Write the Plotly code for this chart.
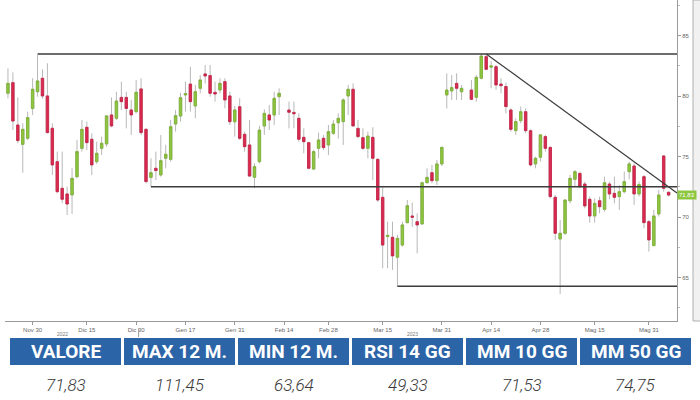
import plotly.graph_objects as go

# ---------------- data ----------------
dates = [
    "2022-11-22", "2022-11-23", "2022-11-25", "2022-11-28", "2022-11-29", "2022-11-30",
    "2022-12-01", "2022-12-02", "2022-12-05", "2022-12-06", "2022-12-07", "2022-12-08", "2022-12-09",
    "2022-12-12", "2022-12-13", "2022-12-14", "2022-12-15", "2022-12-16", "2022-12-19", "2022-12-20",
    "2022-12-21", "2022-12-22", "2022-12-23", "2022-12-27", "2022-12-28", "2022-12-29", "2022-12-30",
    "2023-01-03", "2023-01-04", "2023-01-05", "2023-01-06", "2023-01-09", "2023-01-10", "2023-01-11",
    "2023-01-12", "2023-01-13", "2023-01-17", "2023-01-18", "2023-01-19", "2023-01-20", "2023-01-23",
    "2023-01-24", "2023-01-25", "2023-01-26", "2023-01-27", "2023-01-30", "2023-01-31",
    "2023-02-01", "2023-02-02", "2023-02-03", "2023-02-06", "2023-02-07", "2023-02-08", "2023-02-09",
    "2023-02-10", "2023-02-13", "2023-02-14", "2023-02-15", "2023-02-16", "2023-02-17", "2023-02-21",
    "2023-02-22", "2023-02-23", "2023-02-24", "2023-02-27", "2023-02-28",
    "2023-03-01", "2023-03-02", "2023-03-03", "2023-03-06", "2023-03-07", "2023-03-08", "2023-03-09",
    "2023-03-10", "2023-03-13", "2023-03-14", "2023-03-15", "2023-03-16", "2023-03-17", "2023-03-20",
    "2023-03-21", "2023-03-22", "2023-03-23", "2023-03-24", "2023-03-27", "2023-03-28", "2023-03-29",
    "2023-03-30", "2023-03-31",
    "2023-04-03", "2023-04-04", "2023-04-05", "2023-04-06", "2023-04-07", "2023-04-10", "2023-04-11",
    "2023-04-12", "2023-04-13", "2023-04-14", "2023-04-17", "2023-04-18", "2023-04-19", "2023-04-20",
    "2023-04-21", "2023-04-24", "2023-04-25", "2023-04-26", "2023-04-27", "2023-04-28",
    "2023-05-01", "2023-05-02", "2023-05-03", "2023-05-04", "2023-05-05", "2023-05-08", "2023-05-09",
    "2023-05-10", "2023-05-11", "2023-05-12", "2023-05-15", "2023-05-16", "2023-05-17", "2023-05-18",
    "2023-05-19", "2023-05-22", "2023-05-23", "2023-05-24", "2023-05-25", "2023-05-26", "2023-05-30",
    "2023-05-31", "2023-06-01", "2023-06-02", "2023-06-05", "2023-06-06",
]

opens = [
    80.24, 81.12, 77.62, 76.02, 76.52, 78.98,
    80.37, 81.48, 80.02, 77.35, 74.59, 72.39, 71.92,
    71.84, 73.35, 75.69, 77.43, 76.44, 74.59, 75.69,
    76.05, 78.45, 78.17, 79.90, 79.90, 78.86, 78.72,
    80.60, 77.26, 73.29, 74.04, 73.49, 74.87, 74.78,
    77.70, 78.36, 80.10, 81.00, 79.19, 80.65, 81.84,
    81.70, 80.32, 80.51, 81.20, 80.02, 77.89,
    79.13, 76.85, 75.97, 73.30, 74.59, 77.54, 78.45,
    78.45, 79.96, None, 78.86, 78.66, 78.17, 76.60,
    76.16, 73.98, 75.69, 76.52, 75.97,
    76.93, 77.81, 77.90, 80.02, 80.57, 77.34, 76.57,
    75.69, 76.60, 74.78, 71.64, 68.40, 68.34, 66.69,
    67.70, 69.55, 70.10, 69.63, 69.44, 72.85, 73.68,
    73.02, 74.40,
    80.10, 80.43, 81.06, 80.37, None, 80.51, 79.91,
    81.48, 83.27, 82.40, 82.44, 81.00, 80.80, 78.86,
    77.15, 77.98, 78.72, 77.15, 74.40, 74.95,
    76.66, 75.77, 71.64, 68.20, 68.67, 71.36, 73.13,
    73.62, 72.74, 71.48, 70.10, 71.36, 70.65, 72.74,
    71.97, 71.70, 72.11, 73.76, 74.23, 71.92, 73.35,
    69.63, 67.65, 70.27, 75.06, 72.06,
]

highs = [
    82.30, 81.97, 79.90, 77.76, 78.72, 81.48,
    83.40, 82.22, 82.72, 77.76, 75.42, 75.42, 72.52,
    74.04, 76.38, 78.03, 77.90, 76.93, 76.24, 76.66,
    78.45, 79.90, 80.37, 81.20, 80.37, 79.69, 81.34,
    81.48, 77.35, 74.87, 75.42, 76.80, 75.97, 78.03,
    78.86, 80.29, 81.20, 82.44, 80.93, 81.75, 82.58,
    82.58, 81.20, 81.48, 81.48, 80.37, 79.19,
    79.82, 77.07, 78.03, 74.45, 77.54, 78.92, 79.27,
    80.37, 80.65, None, 79.55, 79.55, 78.58, 77.34,
    76.24, 75.55, 76.99, 76.80, 77.62,
    78.03, 78.58, 79.82, 80.93, 81.06, 78.03, 77.34,
    77.07, 77.43, 74.87, 72.52, 69.63, 69.63, 68.53,
    69.63, 71.42, 71.20, 70.32, 72.94, 74.04, 74.32,
    74.73, 75.83,
    81.89, 81.75, 81.89, 80.93, None, 81.34, 81.75,
    83.54, 83.49, 82.90, 82.58, 81.48, 81.12, 79.00,
    78.17, 79.14, 79.00, 77.26, 75.00, 76.88,
    76.80, 75.83, 71.83, 69.77, 71.48, 73.49, 73.90,
    73.76, 72.94, 71.70, 71.56, 71.70, 73.35, 72.94,
    73.35, 72.66, 73.76, 74.59, 74.45, 72.94, 73.49,
    69.77, 70.60, 72.25, 75.14, 72.11,
]

lows = [
    79.82, 77.21, 76.10, 73.68, 76.38, 78.45,
    79.96, 79.80, 76.93, 73.49, 71.97, 71.15, 70.18,
    70.27, 73.21, 75.42, 75.55, 73.49, 74.40, 75.14,
    75.83, 77.43, 78.03, 78.86, 77.34, 76.80, 78.58,
    76.80, 72.80, 72.52, 73.07, 73.35, 74.04, 74.59,
    77.07, 77.89, 78.72, 78.72, 78.17, 80.24, 81.06,
    79.96, 79.55, 80.24, 79.00, 77.62, 76.66,
    76.38, 75.42, 73.35, 72.39, 74.45, 76.80, 77.20,
    77.62, 78.45, None, 77.34, 77.35, 76.24, 75.28,
    73.96, 73.90, 74.87, 75.55, 75.14,
    76.80, 76.50, 75.97, 78.45, 77.48, 76.52, 75.55,
    74.87, 73.07, 71.28, 65.78, 65.78, 65.64, 64.26,
    67.56, 69.50, 69.20, 67.01, 69.36, 72.80, 72.80,
    72.66, 74.23,
    78.99, 79.69, 79.69, 79.69, None, 79.69, 79.55,
    81.40, 82.17, 80.65, 80.51, 80.24, 78.58, 77.07,
    76.80, 77.76, 76.93, 74.18, 74.04, 74.59,
    75.42, 71.56, 68.12, 63.64, 68.53, 71.14, 72.52,
    72.39, 70.73, 69.55, 69.55, 70.32, 70.46, 71.48,
    71.14, 70.60, 71.97, 73.13, 71.01, 71.70, 69.08,
    67.15, 67.62, 70.05, 72.11, 71.70,
]

closes = [
    81.06, 77.95, 76.33, 77.26, 78.23, 80.57,
    81.26, 80.02, 76.99, 74.32, 72.11, 71.48, 71.09,
    73.21, 75.42, 77.26, 76.16, 74.32, 75.28, 76.11,
    78.37, 77.54, 79.60, 79.55, 78.99, 78.45, 80.32,
    76.99, 72.94, 73.68, 73.85, 74.67, 75.20, 77.48,
    78.39, 79.88, 80.22, 79.55, 80.37, 81.34, 81.67,
    80.24, 80.18, 81.06, 79.69, 77.89, 78.86,
    76.52, 75.83, 73.40, 74.18, 77.20, 78.58, 78.03,
    79.82, 80.24, None, 78.67, 78.55, 76.44, 76.24,
    74.04, 75.42, 76.38, 75.75, 77.07,
    77.70, 78.17, 79.69, 80.57, 77.54, 76.66, 75.69,
    76.71, 74.87, 71.42, 67.70, 68.50, 66.80, 68.25,
    69.36, 70.95, 70.00, 69.36, 72.85, 73.29, 73.02,
    74.40, 75.77,
    80.51, 80.71, 80.65, 80.65, None, 79.74, 81.56,
    83.32, 82.22, 82.50, 80.93, 80.87, 79.14, 77.26,
    77.90, 78.72, 77.15, 74.32, 74.87, 76.80,
    75.69, 71.70, 68.67, 68.67, 71.42, 73.21, 73.76,
    72.52, 70.93, 70.10, 71.14, 70.87, 72.85, 71.92,
    71.64, 72.11, 72.94, 74.40, 71.92, 72.70, 69.55,
    68.12, 70.10, 71.83, 72.39, 71.83,
]

tick_dates = ["2022-11-30", "2022-12-15", "2022-12-30", "2023-01-17", "2023-01-31", "2023-02-14",
              "2023-02-28", "2023-03-15", "2023-03-31", "2023-04-14", "2023-04-28", "2023-05-15",
              "2023-05-31"]
tick_labels = ["Nov 30", "Dic 15", "Dic 30", "Gen 17", "Gen 31", "Feb 14", "Feb 28", "Mar 15",
               "Mar 31", "Apr 14", "Apr 28", "Mag 15", "Mag 31"]

year_labels = ["2022", "2023"]
year_label_dates = ["2022-12-08", "2023-03-23"]
year_break_after = "2022-12-30"

level_start_dates = ["2022-12-01", "2023-01-05", "2023-03-20"]
level_prices = [83.49, 72.52, 64.30]
trend_start_date = "2023-04-13"
trend_start_price = 83.49
trend_end_price = 72.0

last_value = 71.83

table_headers = ["VALORE", "MAX 12 M.", "MIN 12 M.", "RSI 14 GG", "MM 10 GG", "MM 50 GG"]
table_values = ["71,83", "111,45", "63,64", "49,33", "71,53", "74,75"]

# ---------------- styling ----------------
GREEN = "#8dc63f"
GREEN_LINE = "#7db332"
RED = "#da2a4f"
RED_LINE = "#c92247"
WICK = "#b8b8b8"
LEVEL = "#3c3c3c"
BLUE = "#2c64a8"

W, H = 700, 400
ML, MR, MT, MB = 5, 23, 0, 79
PW = W - ML - MR
PH = H - MT - MB

x_range = [-0.6, len(dates) + 0.7]
y_range = [61.42, 87.95]


def px_x(p):
    return (p - ML) / PW


def px_y(p):
    return (H - MB - p) / PH


body_hi = [None if o is None else max(o, c) for o, c in zip(opens, closes)]
body_lo = [None if o is None else min(o, c) for o, c in zip(opens, closes)]

fig = go.Figure()

# wicks
fig.add_trace(go.Candlestick(
    x=dates, open=opens, high=highs, low=lows, close=closes,
    increasing=dict(line=dict(color=WICK, width=1), fillcolor=WICK),
    decreasing=dict(line=dict(color=WICK, width=1), fillcolor=WICK),
    hoverinfo="skip", showlegend=False,
))
# bodies
fig.add_trace(go.Candlestick(
    x=dates, open=opens, high=body_hi, low=body_lo, close=closes,
    increasing=dict(line=dict(color=GREEN_LINE, width=0.8), fillcolor=GREEN),
    decreasing=dict(line=dict(color=RED_LINE, width=0.8), fillcolor=RED),
    hoverinfo="skip", showlegend=False,
))

shapes = []
# horizontal levels
for d, p in zip(level_start_dates, level_prices):
    shapes.append(dict(type="line", xref="x", yref="y", x0=dates.index(d), x1=x_range[1],
                       y0=p, y1=p, line=dict(color=LEVEL, width=1.5), layer="above"))
# descending trendline
shapes.append(dict(type="line", xref="x", yref="y", x0=dates.index(trend_start_date), x1=x_range[1],
                   y0=trend_start_price, y1=trend_end_price, line=dict(color=LEVEL, width=1.2),
                   layer="above"))
# year separator tick (below the tick labels)
yb = dates.index(year_break_after) + 0.5
shapes.append(dict(type="line", xref="x", yref="paper", x0=yb, x1=yb, y0=px_y(H - MB + 8),
                   y1=px_y(H - MB + 16), line=dict(color="#999999", width=1)))
# right frame strip
shapes.append(dict(type="rect", xref="paper", yref="paper", x0=px_x(693), x1=px_x(702), y0=0, y1=1,
                   fillcolor="#f1f1f1", line=dict(color="#b0b0b0", width=1), layer="below"))

annotations = []
for lab, d in zip(year_labels, year_label_dates):
    annotations.append(dict(text=lab, xref="x", yref="paper", x=dates.index(d), y=px_y(H - MB + 13),
                            showarrow=False, font=dict(size=5, color="#777777", family="Liberation Sans"),
                            yanchor="middle"))

# price tag
annotations.append(dict(text=f"{last_value:.2f}", xref="paper", yref="y", x=1, y=last_value,
                        xanchor="left", yanchor="middle", showarrow=False, bgcolor=GREEN,
                        borderpad=1, font=dict(size=6, color="white", family="Liberation Sans")))

# table
n = len(table_headers)
t_left, t_right = 10, 691
gap = 3
cw = (t_right - t_left - gap * (n - 1)) / n
for i, (hd, val) in enumerate(zip(table_headers, table_values)):
    x0 = t_left + i * (cw + gap)
    x1 = x0 + cw
    shapes.append(dict(type="rect", xref="paper", yref="paper", x0=px_x(x0), x1=px_x(x1),
                       y0=px_y(365), y1=px_y(338), fillcolor=BLUE, line=dict(width=0)))
    annotations.append(dict(text=f"<b>{hd}</b>", xref="paper", yref="paper", x=px_x((x0 + x1) / 2),
                            y=px_y(351.5), showarrow=False, xanchor="center", yanchor="middle",
                            font=dict(size=19, color="white", family="Roboto")))
    annotations.append(dict(text=f"<i>{val}</i>", xref="paper", yref="paper", x=px_x((x0 + x1) / 2),
                            y=px_y(385), showarrow=False, xanchor="center", yanchor="middle",
                            font=dict(size=17, color="#3a3a3a", family="Roboto", weight=300)))

fig.update_layout(
    width=W, height=H,
    margin=dict(l=ML, r=MR, t=MT, b=MB),
    paper_bgcolor="white", plot_bgcolor="white",
    shapes=shapes, annotations=annotations,
    showlegend=False,
    xaxis=dict(
        type="category", categoryorder="array", categoryarray=dates,
        range=x_range, rangeslider=dict(visible=False),
        tickmode="array", tickvals=tick_dates, ticktext=tick_labels,
        tickfont=dict(size=6, color="#666666", family="Liberation Sans"),
        ticks="outside", ticklen=3, tickcolor="#999999",
        showline=True, linecolor="#9a9a9a", linewidth=1,
        showgrid=False, zeroline=False,
    ),
    yaxis=dict(
        side="right", range=y_range, dtick=5, tick0=0,
        tickfont=dict(size=6, color="#666666", family="Liberation Sans"),
        ticks="outside", ticklen=3, tickcolor="#999999",
        minor=dict(dtick=2.5, ticks="outside", ticklen=2, tickcolor="#bbbbbb"),
        showline=True, linecolor="#9a9a9a", linewidth=1,
        showgrid=False, zeroline=False,
    ),
)

fig.write_html("out.html", config={"displayModeBar": False},
               post_script="document.body.style.margin='0';")
